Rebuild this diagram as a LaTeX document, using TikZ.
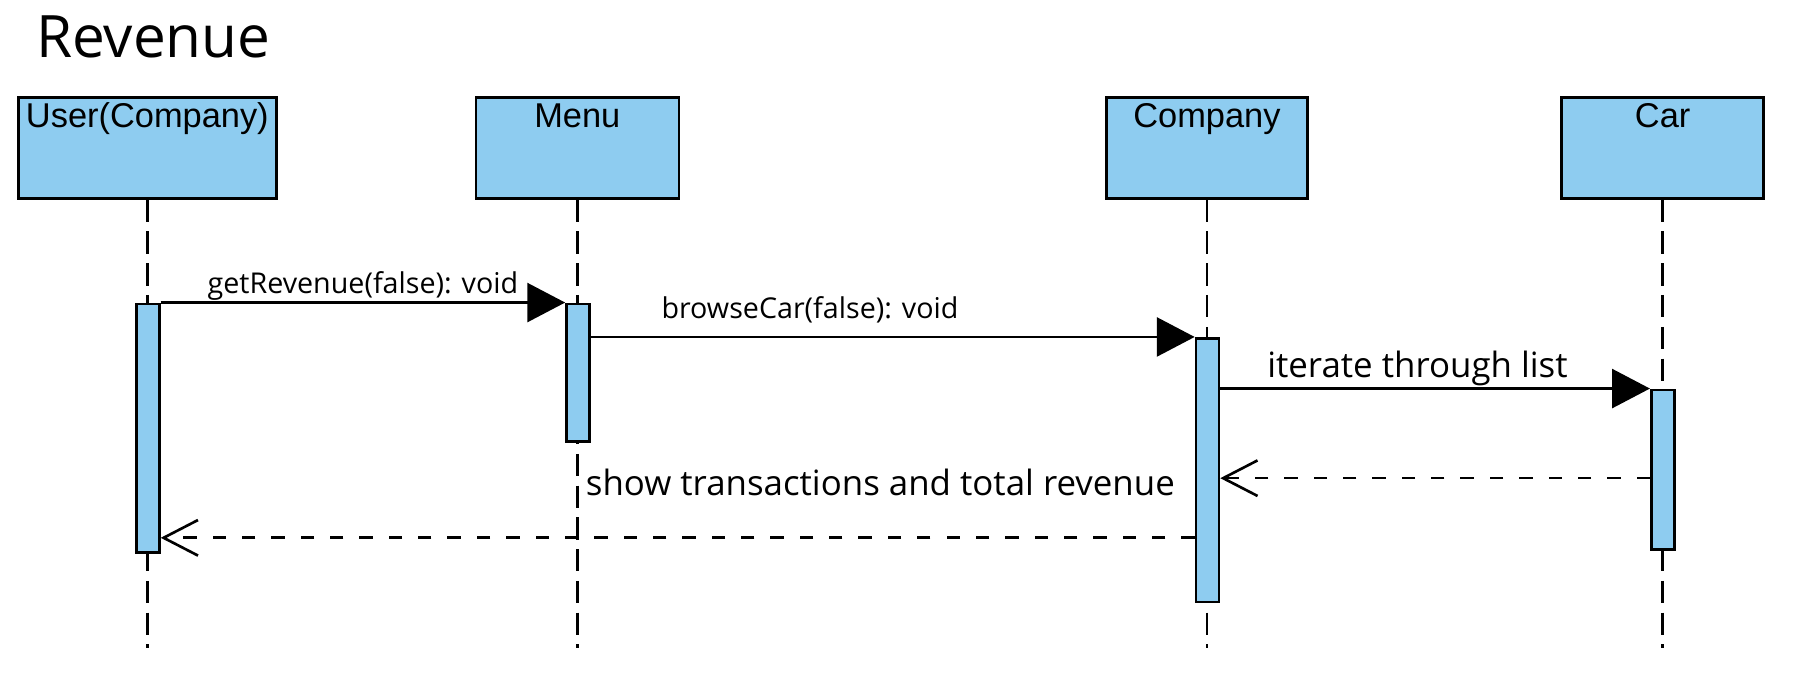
\documentclass[tikz,border=0pt]{standalone}
\usepackage{fontspec}
\setmainfont{Open Sans}
\newfontfamily\headfont{Liberation Sans}
\usetikzlibrary{arrows.meta}
\definecolor{lifeblue}{RGB}{142,204,240}

\begin{document}
\begin{tikzpicture}[x=0.5pt, y=-0.5pt,
        head/.style={draw, line width=1.15pt, fill=lifeblue, minimum height=44pt, inner sep=0pt},
        headname/.style={anchor=base, yshift=-13.75pt, inner sep=0pt, font=\headfont\fontsize{15}{18}\selectfont},
        actbar/.style={draw, line width=1.15pt, fill=lifeblue, minimum width=10pt, inner sep=0pt},
        lifeline/.style={line width=1.15pt, dash pattern=on 9.75pt off 4.1pt},
        call/.style={line width=1.15pt, -{Triangle[length=16.5pt, width=17pt]}},
        reply/.style={line width=1.15pt, dash pattern=on 5.8pt off 7pt, -{Straight Barb[length=15pt, width=15.5pt]}},
        small/.style={anchor=base, inner sep=0pt, font=\fontsize{12.5}{15}\selectfont},
        big/.style={anchor=base, inner sep=0pt, font=\fontsize{15.2}{18}\selectfont}]
    \useasboundingbox (0, 0) rectangle (1568, 590);
    \node[anchor=base west, inner sep=0pt, font=\fontsize{25.5}{30}\selectfont] (title) at (31, 50) {Revenue};

    % objects
    \node[head, minimum width=112.5pt, label={[headname]north:User(Company)}] (user) at (128.5, 129) {};
    \node[head, minimum width=88.5pt, label={[headname]north:Menu}] (menu) at (503.5, 129) {};
    \node[head, minimum width=87.5pt, label={[headname]north:Company}] (company) at (1052.5, 129) {};
    \node[head, minimum width=88pt, label={[headname]north:Car}] (car) at (1450, 129) {};
    \foreach \n in {user, menu, company, car}
        \draw[lifeline] (\n.south) -- (\n.south |- 0, 565);

    % activations
    \node[actbar, minimum height=108.5pt] (userbar) at (129, 373.5) {};
    \node[actbar, minimum height=60pt] (menubar) at (504, 325) {};
    \node[actbar, minimum height=115pt] (companybar) at (1053, 410) {};
    \node[actbar, minimum height=69.5pt] (carbar) at (1450, 409.5) {};

    % messages
    \draw[call] (userbar.north east) -- node[small, yshift=4pt] {getRevenue(false): void} (menubar.north west);
    \draw[call] (menubar.east |- companybar.north) -- node[small, pos=0.363, yshift=8pt] {browseCar(false): void} (companybar.north west);
    \draw[call] (companybar.east |- carbar.north) -- node[big, pos=0.459, yshift=5pt] {iterate through list} (carbar.north west);
    \coordinate (carreply) at (0, 417);
    \coordinate (companyreply) at (0, 469);
    \draw[reply] (carbar.west |- carreply) -- (companybar.east |- carreply);
    \draw[reply] (companybar.west |- companyreply) -- node[big, pos=0.304, yshift=18.5pt] {show transactions and total revenue} (userbar.east |- companyreply);
\end{tikzpicture}
\end{document}
